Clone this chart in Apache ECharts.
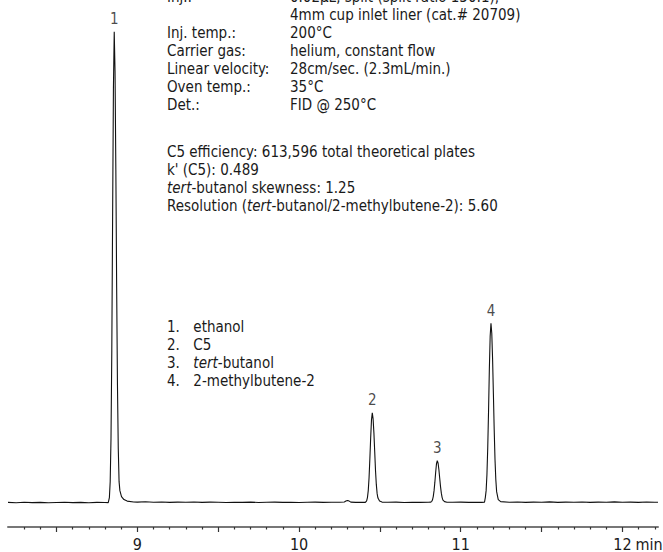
<!DOCTYPE html>
<html><head><meta charset="utf-8">
<script src="https://cdn.jsdelivr.net/npm/echarts@6/dist/echarts.min.js"></script>
<style>html,body{margin:0;padding:0;background:#fff}#c{width:663px;height:552px}</style>
</head><body><div id="c"></div>
<script>
// ---- data ----
const peakNames = ['1', '2', '3', '4'];
const peakTimes = [8.857, 10.453, 10.855, 11.187];
const peakHeights = [472.5, 90, 42, 180];
const signal = [
  [8.20,0.2],[8.25,-0.1],[8.30,0.3],[8.35,0],[8.40,0.2],[8.45,-0.2],[8.50,0.1],[8.55,0.3],[8.60,0],[8.65,0.2],[8.70,-0.1],[8.75,0.2],[8.80,0.1],[8.82,0],
  [8.822,0.5],[8.827,5],[8.832,21],[8.837,64],[8.842,153],[8.847,287],[8.852,416],[8.857,472.5],[8.862,433],[8.867,334],[8.872,216],[8.877,118],[8.882,54],[8.887,21],[8.892,12],[8.902,6],[8.917,3],[8.937,1.5],[8.977,0.6],
  [9.00,0.5],[9.05,0.8],[9.10,0.3],[9.15,0.6],[9.20,0.2],[9.25,0.5],[9.30,0.3],[9.35,0.6],[9.40,0.2],[9.45,0.5],[9.50,0.3],[9.55,0.1],[9.60,0.4],[9.65,0.2],[9.70,0.5],[9.75,0.1],[9.80,0.3],[9.85,0.5],[9.90,0.2],[9.95,0.4],[10.00,0.1],[10.05,0.3],[10.10,0.5],[10.15,0.2],[10.20,0.4],[10.25,0.3],[10.28,0.6],[10.29,1.5],[10.30,2.2],[10.31,1.5],[10.32,0.5],[10.35,0.2],[10.38,0.4],[10.41,0.2],
  [10.418,1.8],[10.423,5],[10.428,12],[10.433,25],[10.438,44],[10.443,65],[10.448,83],[10.453,90],[10.458,84],[10.463,70],[10.468,51],[10.473,32],[10.478,18],[10.483,9],[10.488,4.5],[10.498,1.5],[10.513,0.5],
  [10.55,0.3],[10.60,0.5],[10.65,0.1],[10.70,0.4],[10.75,0.2],[10.80,0.3],[10.815,0.5],
  [10.820,1],[10.825,2.5],[10.830,6],[10.835,12],[10.840,20.5],[10.845,30.5],[10.850,39],[10.855,42],[10.860,39.5],[10.865,33],[10.870,24.5],[10.875,16],[10.880,9.5],[10.885,5],[10.890,2.5],[10.900,1],[10.915,0.4],
  [10.95,0.3],[11.00,0.5],[11.05,0.2],[11.10,0.4],[11.13,0.2],[11.147,0.5],
  [11.152,5],[11.157,12],[11.162,28],[11.167,55],[11.172,92],[11.177,134],[11.182,167],[11.187,180],[11.192,170],[11.197,144],[11.202,109],[11.207,73],[11.212,43],[11.217,23],[11.222,11],[11.232,3],[11.247,1],
  [11.30,0.3],[11.35,0.6],[11.40,0.2],[11.45,0.5],[11.50,0.3],[11.55,0.7],[11.60,0.2],[11.65,0.5],[11.70,0.3],[11.75,0.6],[11.80,0.2],[11.85,0.5],[11.90,0.3],[11.95,0.7],[12.00,0.3],[12.05,0.5],[12.10,0.2],[12.15,0.6],[12.20,0.3],[12.22,0.4]
];
const xLabelValues = [9, 10, 11, 12];
const majorTicks = [8.5, 9, 9.5, 10, 10.5, 11, 11.5, 12];
const minorTicks = [];
for (let i = 83; i <= 122; i++) { if (i % 5 !== 0) minorTicks.push(i / 10); }
const condLabels = ['Inj.:', '', 'Inj. temp.:', 'Carrier gas:', 'Linear velocity:', 'Oven temp.:', 'Det.:'];
const condValues = ['0.02µL, split (split ratio 150:1),', '4mm cup inlet liner (cat.# 20709)', '200°C', 'helium, constant flow', '28cm/sec. (2.3mL/min.)', '35°C', 'FID @ 250°C'];
const statLines = ['C5 efficiency: 613,596 total theoretical plates', "k' (C5): 0.489", '{i|tert}-butanol skewness: 1.25', 'Resolution ({i|tert}-butanol/2-methylbutene-2): 5.60'];
const legendLines = ['1.\u2003ethanol', '2.\u2003C5', '3.\u2003{i|tert}-butanol', '4.\u20032-methylbutene-2'];

// ---- chart ----
const FONT = "'Liberation Sans Narrow', 'DejaVu Sans Condensed', 'Roboto Condensed', 'Liberation Sans', sans-serif";
const TXT = '#1a1a1a';
const chart = echarts.init(document.getElementById('c'), null, {renderer: 'svg'});

function textEl(x, y, t) {
  return {type: 'text', x: x, y: y, silent: true,
    style: {text: t, fill: TXT, font: '15px ' + FONT, verticalAlign: 'middle', align: 'left',
      rich: {i: {fontStyle: 'italic', fontSize: 15, fontFamily: FONT, fill: TXT}}}};
}
const graphics = [];
condLabels.forEach((t, k) => { if (t) graphics.push(textEl(167, -3.5 + 18 * k, t)); });
condValues.forEach((t, k) => graphics.push(textEl(290, -3.5 + 18 * k, t)));
statLines.forEach((t, k) => graphics.push(textEl(167, 151.5 + 18 * k, t)));
legendLines.forEach((t, k) => graphics.push(textEl(167, 327 + 18 * k, t)));

const xMin = 8.2, xMax = 12.22;
chart.setOption({
  animation: false,
  grid: {left: 8, right: 5, top: 0, bottom: 23},
  xAxis: [{
    type: 'value', min: xMin, max: xMax,
    axisLine: {show: true, onZero: false, lineStyle: {color: '#777', width: 2}},
    axisTick: {show: true, customValues: majorTicks, length: 5, lineStyle: {color: '#333', width: 1.2}},
    axisLabel: {show: true, customValues: xLabelValues, margin: 9, color: TXT, fontSize: 16, fontFamily: FONT,
      formatter: v => String(v)},
    splitLine: {show: false}
  }, {
    type: 'value', min: xMin, max: xMax, position: 'bottom',
    axisLine: {show: false, onZero: false},
    axisTick: {show: true, customValues: minorTicks, length: 2.5, lineStyle: {color: '#333', width: 1.2}},
    axisLabel: {show: false},
    splitLine: {show: false}
  }],
  yAxis: {type: 'value', min: -24.5, max: 504.5, show: false, splitLine: {show: false}},
  series: [{
    type: 'line', data: signal, showSymbol: false, symbol: 'none', xAxisIndex: 0,
    lineStyle: {color: '#111', width: 1.1}, silent: true
  }, {
    type: 'scatter', xAxisIndex: 0, symbolSize: 0, silent: true,
    data: peakTimes.map((t, k) => [t, peakHeights[k]]),
    label: {show: true, position: 'top', distance: 5, color: TXT, fontSize: 15, fontFamily: FONT,
      formatter: p => peakNames[p.dataIndex]}
  }],
  graphic: graphics
});
const px12 = chart.convertToPixel({xAxisIndex: 0}, 12);
const axisY = chart.convertToPixel({yAxisIndex: 0}, -24.5);
graphics.push({type: 'text', x: px12 + 13, y: axisY + 9, silent: true,
  style: {text: 'min', fill: TXT, font: '16px ' + FONT, verticalAlign: 'top', align: 'left'}});
chart.setOption({graphic: graphics});
</script>
</body></html>
